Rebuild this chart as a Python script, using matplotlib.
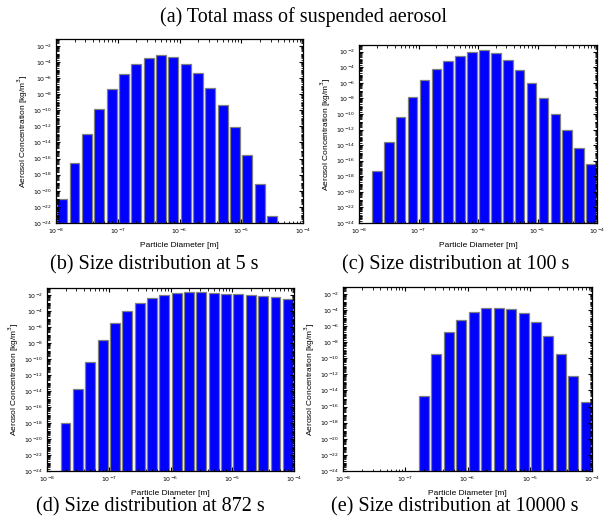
import numpy as np
import matplotlib
matplotlib.use('Agg')
import matplotlib.pyplot as plt
from matplotlib.ticker import LogLocator, NullFormatter, FixedLocator

# 20 log-spaced size bins from 1e-8 m to 1e-4 m (0.2 decade each)
bin_edges_exp = np.linspace(-8, -4, 21)

# log10 of aerosol concentration per bin, None = empty bin
conc_5s = [-21.0, -16.6, -12.9, -9.8, -7.3, -5.5, -4.2, -3.45, -3.16, -3.4,
           -4.2, -5.4, -7.2, -9.4, -12.1, -15.5, -19.2, -23.2, None, None]
conc_100s = [None, -17.3, -13.55, -10.4, -7.8, -5.66, -4.2, -3.16, -2.56, -2.09,
             -1.83, -2.13, -3.03, -4.37, -6.0, -7.9, -9.97, -12.1, -14.4, -16.4]
conc_872s = [None, -18.0, -13.8, -10.35, -7.68, -5.55, -4.05, -3.04, -2.42, -2.0,
             -1.8, -1.67, -1.7, -1.8, -1.87, -1.92, -2.04, -2.13, -2.25, -2.54]
conc_10000s = [None, None, None, None, None, None, -14.7, -9.5, -6.8, -5.2,
               -4.3, -3.8, -3.7, -3.9, -4.4, -5.55, -7.2, -9.43, -12.2, -15.4]

captions = ['(b) Size distribution at 5 s', '(c) Size distribution at 100 s',
            '(d) Size distribution at 872 s', '(e) Size distribution at 10000 s']

W, H = 608, 518
fig = plt.figure(figsize=(W / 100, H / 100), dpi=100)

# axes boxes in pixels: left, right, top, bottom
boxes = [(56, 303, 39, 223), (359, 597, 45, 223),
         (47, 294, 288, 471), (343, 592, 287, 471)]
series = [conc_5s, conc_100s, conc_872s, conc_10000s]


def draw_panel(ax, vals):
    lefts, widths, heights = [], [], []
    for i, v in enumerate(vals):
        if v is None:
            continue
        lo = 10 ** (bin_edges_exp[i] + 0.02)
        hi = 10 ** (bin_edges_exp[i + 1] - 0.02)
        lefts.append(lo)
        widths.append(hi - lo)
        heights.append(10 ** v)
    ax.set_xscale('log')
    ax.set_yscale('log')
    ax.bar(lefts, heights, width=widths, align='edge', bottom=1e-24,
           color='#0000ff', edgecolor='#808080', linewidth=0.9)
    ax.set_xlim(1e-8, 1e-4)
    ax.set_ylim(1e-24, 10 ** -1.15)

    ax.yaxis.set_major_locator(FixedLocator([10.0 ** e for e in range(-24, -1, 2)]))
    ax.yaxis.set_minor_locator(LogLocator(base=10, subs=np.arange(1, 10), numticks=60))
    ax.yaxis.set_minor_formatter(NullFormatter())
    ax.xaxis.set_major_locator(FixedLocator([1e-8, 1e-7, 1e-6, 1e-5, 1e-4]))
    ax.xaxis.set_minor_locator(LogLocator(base=10, subs=np.arange(2, 10), numticks=20))
    ax.xaxis.set_minor_formatter(NullFormatter())

    ax.tick_params(which='both', direction='in', top=True, right=True,
                   labelsize=4.5, pad=3)
    ax.tick_params(which='major', length=3, width=0.8)
    ax.tick_params(which='minor', length=1.8, width=0.6)
    for s in ax.spines.values():
        s.set_linewidth(0.9)
    ax.set_xlabel('Particle Diameter [m]', fontsize=6, labelpad=4,
                  family='Liberation Sans')
    ax.set_ylabel('Aerosol Concentration [kg/m$^3$]', fontsize=6, labelpad=2,
                  family='Liberation Sans')


for (l, r, t, b), vals in zip(boxes, series):
    ax = fig.add_axes([l / W, 1 - b / H, (r - l) / W, (b - t) / H])
    draw_panel(ax, vals)

serif = 'Liberation Serif'
fig.text(303 / W, 1 - 17 / H, '(a) Total mass of suspended aerosol',
         ha='center', va='center', fontsize=14.5, family=serif)
fig.text(154 / W, 1 - 265 / H, captions[0], ha='center', va='center',
         fontsize=14.5, family=serif)
fig.text(456 / W, 1 - 265 / H, captions[1], ha='center', va='center',
         fontsize=14.5, family=serif)
fig.text(150 / W, 1 - 516 / H, captions[2], ha='center', va='bottom',
         fontsize=14.5, family=serif)
fig.text(455 / W, 1 - 516 / H, captions[3], ha='center', va='bottom',
         fontsize=14.5, family=serif)

fig.savefig('out.png', dpi=100)
